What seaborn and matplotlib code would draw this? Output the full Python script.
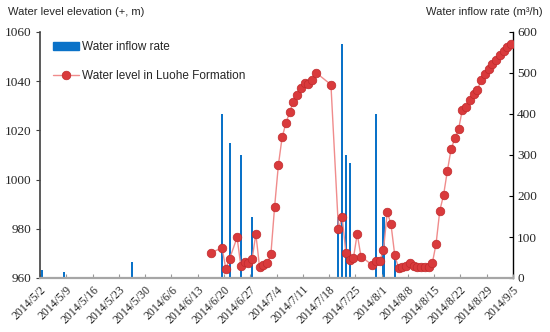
import pandas as pd
import seaborn as sns
import matplotlib.pyplot as plt
import matplotlib.dates as mdates
from matplotlib.lines import Line2D
from matplotlib.patches import Patch

# Water level in Luohe Formation (elevation, m)
level_dates = [
    "2014-06-16", "2014-06-19", "2014-06-20", "2014-06-21", "2014-06-23", "2014-06-24",
    "2014-06-25", "2014-06-26", "2014-06-27", "2014-06-28", "2014-06-29", "2014-06-30",
    "2014-07-01", "2014-07-02", "2014-07-03", "2014-07-04", "2014-07-05", "2014-07-06",
    "2014-07-07", "2014-07-08", "2014-07-09", "2014-07-10", "2014-07-11", "2014-07-12",
    "2014-07-13", "2014-07-14", "2014-07-18", "2014-07-20", "2014-07-21", "2014-07-22",
    "2014-07-23", "2014-07-24", "2014-07-25", "2014-07-26", "2014-07-29", "2014-07-30",
    "2014-07-31", "2014-08-01", "2014-08-02", "2014-08-03", "2014-08-04", "2014-08-05",
    "2014-08-06", "2014-08-07", "2014-08-08", "2014-08-09", "2014-08-10", "2014-08-11",
    "2014-08-12", "2014-08-13", "2014-08-14", "2014-08-15", "2014-08-16", "2014-08-17",
    "2014-08-18", "2014-08-19", "2014-08-20", "2014-08-21", "2014-08-22", "2014-08-23",
    "2014-08-24", "2014-08-25", "2014-08-26", "2014-08-27", "2014-08-28", "2014-08-29",
    "2014-08-30", "2014-08-31", "2014-09-01", "2014-09-02", "2014-09-03", "2014-09-04",
]
level_values = [
    970.3, 972.2, 963.8, 967.8, 976.5, 964.9,
    966.6, 966.0, 967.7, 977.9, 964.3, 965.3,
    966.0, 969.6, 989.0, 1005.9, 1017.2, 1022.9,
    1027.4, 1031.7, 1034.5, 1037.2, 1039.4, 1038.7,
    1040.5, 1043.5, 1038.6, 980.0, 984.7, 970.0,
    967.3, 968.1, 978.0, 968.7, 965.3, 967.0,
    966.8, 971.4, 986.8, 981.8, 969.3, 964.1,
    964.6, 965.0, 966.2, 965.0, 964.6, 964.6,
    964.6, 964.6, 966.0, 973.8, 987.4, 993.7,
    1003.4, 1012.3, 1016.8, 1020.6, 1028.3, 1029.6,
    1032.4, 1034.8, 1036.4, 1040.5, 1042.9, 1045.1,
    1046.9, 1048.6, 1050.7, 1052.4, 1053.8, 1055.1,
]

# Water inflow rate (m3/h)
inflow_dates = [
    "2014-05-02", "2014-05-08", "2014-05-26", "2014-06-19", "2014-06-21", "2014-06-24",
    "2014-06-27", "2014-07-20", "2014-07-21", "2014-07-22", "2014-07-23", "2014-07-30",
    "2014-08-01", "2014-08-04",
]
inflow_values = [20, 15, 38, 400, 330, 300, 150, 150, 570, 300, 280, 400, 150, 55]

start_date = "2014-05-02"
end_date = "2014-09-05"

sns.set_style("ticks")
serif = ["Liberation Serif", "DejaVu Serif"]
sans = ["Liberation Sans", "DejaVu Sans"]
plt.rcParams["font.family"] = sans

blue = "#0A72C8"
red = "#D93A3C"
pink = "#F08C8C"

# each day is drawn in the middle of its date slot
half_day = pd.Timedelta(hours=12)
level_x = mdates.date2num(pd.to_datetime(level_dates) + half_day)
inflow_x = mdates.date2num(pd.to_datetime(inflow_dates) + half_day)

fig = plt.figure(figsize=(5.5, 3.32), dpi=100)
ax = fig.add_axes([40 / 550, 1 - 278 / 332, 473 / 550, 246 / 332])
ax2 = ax.twinx()

sns.barplot(x=inflow_x, y=inflow_values, native_scale=True, width=0.55,
            color=blue, saturation=1, errorbar=None, ax=ax2, linewidth=0)
sns.lineplot(x=level_x, y=level_values, ax=ax, color=pink, lw=1.0,
             marker="o", markersize=6.2, markerfacecolor=red,
             markeredgecolor="#C02A2C", markeredgewidth=0.5)

# line above the bars
ax.set_zorder(ax2.get_zorder() + 1)
ax.patch.set_visible(False)

x0 = mdates.date2num(pd.Timestamp(start_date))
x1 = mdates.date2num(pd.Timestamp(end_date))
tick_days = pd.date_range(start_date, end_date, freq="7D")
for a in (ax, ax2):
    a.set_xlim(x0, x1)
    a.set_xlabel("")
    a.set_ylabel("")
ax.set_xticks(mdates.date2num(tick_days))
ax.set_xticklabels([f"{d.year}/{d.month}/{d.day}" for d in tick_days])
ax.set_ylim(960, 1060)
ax.set_yticks(range(960, 1061, 20))
ax2.set_ylim(0, 600)
ax2.set_yticks(range(0, 601, 100))

for lab in ax.get_xticklabels():
    lab.set_rotation(45)
    lab.set_ha("right")
    lab.set_rotation_mode("anchor")
    lab.set_family(serif)
    lab.set_fontsize(8.5)
for lab in ax.get_yticklabels() + ax2.get_yticklabels():
    lab.set_family(serif)
    lab.set_fontsize(9.5)

ax.tick_params(axis="x", direction="in", length=3, color="#999999", pad=4)
ax.tick_params(axis="y", direction="out", length=3, color="#404040", pad=3)
ax2.tick_params(axis="y", direction="in", length=3, color="black", pad=3)
ax2.tick_params(axis="x", bottom=False, labelbottom=False)

for a in (ax, ax2):
    a.spines["top"].set_visible(False)
ax.spines["bottom"].set_color("#A6A6A6")
ax.spines["bottom"].set_linewidth(1.6)
ax.spines["left"].set_color("#404040")
ax.spines["left"].set_linewidth(1.2)
ax.spines["right"].set_visible(False)
ax2.spines["bottom"].set_visible(False)
ax2.spines["left"].set_visible(False)
ax2.spines["right"].set_color("black")
ax2.spines["right"].set_linewidth(1.0)

handles = [
    Patch(color=blue),
    Line2D([], [], color=pink, lw=1.0, marker="o", markersize=6.2,
           markerfacecolor=red, markeredgecolor="#C02A2C", markeredgewidth=0.5),
]
ax.legend(handles, ["Water inflow rate", "Water level in Luohe Formation"],
          loc="upper left", bbox_to_anchor=(0.027, 0.962), frameon=False,
          fontsize=8.5, handlelength=2.2, handletextpad=0.3, labelspacing=1.45,
          borderpad=0, borderaxespad=0)

fig.text(8 / 550, 1 - 12 / 332, "Water level elevation (+, m)",
         fontsize=8, ha="left", va="center")
fig.text(543 / 550, 1 - 12 / 332, "Water inflow rate (m³/h)",
         fontsize=8, ha="right", va="center")

fig.savefig("out.png", dpi=100)
